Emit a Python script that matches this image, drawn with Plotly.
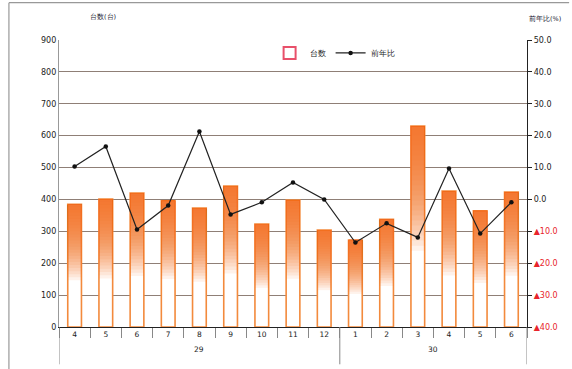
import plotly.graph_objects as go

years = ["29"] * 9 + ["30"] * 6
months = ["4", "5", "6", "7", "8", "9", "10", "11", "12", "1", "2", "3", "4", "5", "6"]
units = [385, 401, 420, 396, 373, 442, 323, 398, 304, 273, 338, 630, 426, 364, 423]
yoy = [10.3, 16.6, -9.4, -1.9, 21.3, -4.7, -0.9, 5.3, 0.0, -13.5, -7.5, -11.9, 9.7, -10.7, -0.9]

left_ticks = list(range(0, 1000, 100))
right_vals = list(range(-40, 60, 10))

def rlabel(v):
    if v < 0:
        return '<span style="color:#e8242b">▲%.1f</span>' % abs(v)
    return '<span style="color:#222222">%.1f</span>' % v

right_text = [rlabel(v) for v in right_vals]
month_text = ['<span style="color:#222222">%s</span>' % m for m in months]

cats = [y + "-" + m for y, m in zip(years, months)]

fig = go.Figure()
fig.add_trace(go.Bar(x=cats, y=units, marker=dict(color="white", line=dict(color="#f38a3c", width=1.6)),
                     name="台数", showlegend=False, hoverinfo="skip"))
fracs = [0.38 + 0.025 * i for i in range(25)]
for f in fracs:
    fig.add_trace(go.Bar(x=cats, y=[u * (1 - f) for u in units], base=[u * f for u in units],
                         marker=dict(color="rgba(242,109,33,0.09)", line=dict(width=0)),
                         showlegend=False, hoverinfo="skip"))
fig.add_trace(go.Bar(x=[None], y=[None], name="台数",
                     marker=dict(color="white", line=dict(color="#e8506a", width=2))))
fig.add_trace(go.Scatter(x=cats, y=yoy, yaxis="y2", mode="lines+markers", name="前年比",
                         line=dict(color="#222222", width=1.2),
                         marker=dict(color="#111111", size=4.5)))

group_names = []
for y in years:
    if y not in group_names:
        group_names.append(y)
annotations = []
shapes = []
for g in group_names:
    idx = [i for i, y in enumerate(years) if y == g]
    annotations.append(dict(text=g, xref="x", yref="paper", x=(idx[0] + idx[-1]) / 2, y=-0.08,
                            showarrow=False, yanchor="middle", font=dict(size=7.5, color="#222")))
    shapes.append(dict(type="line", xref="x", yref="paper", x0=idx[0] - 0.5, x1=idx[0] - 0.5,
                       y0=0, y1=-0.13, line=dict(color="#888", width=1)))
shapes.append(dict(type="line", xref="x", yref="paper", x0=len(cats) - 0.5, x1=len(cats) - 0.5,
                   y0=0, y1=-0.13, line=dict(color="#888", width=1)))

annotations += [
    dict(text="台数(台)", xref="paper", yref="paper", x=0.062, y=1.1, showarrow=False,
         font=dict(size=6.5, color="#223"), xanchor="left"),
    dict(text="前年比(%)", xref="paper", yref="paper", x=1.0, y=1.093, showarrow=False,
         font=dict(size=6.5, color="#223"), xanchor="left"),
]
shapes += [
    dict(type="line", xref="paper", yref="paper", x0=-0.107, x1=-0.107, y0=1.13, y1=-0.2,
         line=dict(color="#999", width=1.2)),
    dict(type="line", xref="paper", yref="paper", x0=-0.107, x1=1.09, y0=1.13, y1=1.13,
         line=dict(color="#999", width=1.2)),
]

fig.update_layout(
    width=572, height=369,
    margin=dict(l=59, r=45, t=40, b=42),
    paper_bgcolor="white", plot_bgcolor="white",
    barmode="overlay", bargap=0.56,
    font=dict(family="DejaVu Sans", size=8, color="#222"),
    legend=dict(orientation="h", x=0.45, y=0.955, xanchor="left", yanchor="middle",
                font=dict(size=8, color="#222"), bgcolor="rgba(0,0,0,0)",
                itemwidth=30, tracegroupgap=0),
    xaxis=dict(type="category", tickmode="array", tickvals=cats, ticktext=month_text,
               range=[-0.5, len(cats) - 0.5],
               tickson="boundaries", showline=True, linecolor="#222", linewidth=1.2,
               ticks="outside", ticklen=10, tickcolor="#888", showgrid=False, automargin=False,
               tickfont=dict(size=7.5, color="#222")),
    yaxis=dict(range=[0, 900], tickvals=left_ticks, showgrid=True, gridcolor="#8f7f76",
               gridwidth=1, showline=True, linecolor="#999", linewidth=1.2, ticks="",
               automargin=False, tickfont=dict(size=8, color="#222"), zeroline=False),
    yaxis2=dict(range=[-40, 50], tickvals=right_vals, ticktext=right_text, overlaying="y",
                side="right", showgrid=False, showline=True, linecolor="#222", linewidth=1.2,
                ticks="outside", ticklen=4, tickcolor="#222", zeroline=False, automargin=False,
                tickfont=dict(size=8, color="#222")),
    annotations=annotations,
    shapes=shapes,
)

fig.write_html("out.html")
